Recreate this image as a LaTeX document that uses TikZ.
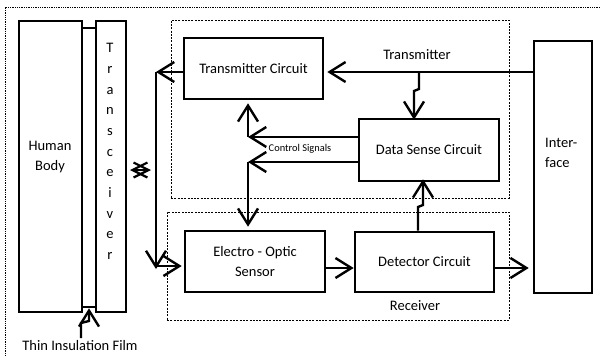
\documentclass[tikz,border=0pt]{standalone}
\usepackage{fontspec}
\setmainfont{Carlito}
\usetikzlibrary{arrows.meta,calc}
\begin{document}
\begin{tikzpicture}[x=1pt,y=-1pt,
  box/.style={draw, line width=2.6pt, inner sep=0pt},
  dotbox/.style={draw, line width=0.7pt, dash pattern=on 2pt off 1.3pt},
  arr/.style={line width=2.4pt, -{Straight Barb[length=16pt,width=20pt,line width=2.4pt]}},
  dbl/.style={line width=2.2pt, {Straight Barb[length=15pt,width=15pt,line width=2.2pt]}-{Straight Barb[length=15pt,width=15pt,line width=2.2pt]}},
  lbl/.style={font=\fontsize{14.5}{20}\selectfont, inner sep=0pt, align=center},
  small/.style={font=\fontsize{10.4}{12}\selectfont, inner sep=0pt}]
\useasboundingbox (0,0) rectangle (600,356);
% outer frame
\draw[line width=0.7pt, dash pattern=on 1.3pt off 1pt] (600,7) -- (5,7) -- (5,356);
% dotted groups
\node[dotbox, minimum width=338pt, minimum height=178pt] (txbox) at (340,109) {};
\node[dotbox, minimum width=342pt, minimum height=108pt] (rxbox) at (338,266) {};
% blocks
\node[box, minimum width=63pt, minimum height=291pt] (hb) at (50.5,166.5) {};
\node[box, minimum width=14pt, minimum height=279pt] (film) at (89,167.5) {};
\node[box, minimum width=30pt, minimum height=291pt] (tr) at (111,166.5) {};
\node[box, minimum width=139pt, minimum height=61pt, lbl] (tc) at (253.5,68.5) {Transmitter Circuit};
\node[box, minimum width=140pt, minimum height=62pt, lbl] (dsc) at (429,150) {Data Sense Circuit};
\node[box, minimum width=140pt, minimum height=61pt, lbl] (eo) at (255,261.5) {Electro - Optic\\Sensor};
\node[box, minimum width=139pt, minimum height=60pt, lbl] (det) at (424.5,262) {Detector Circuit};
\node[box, minimum width=58pt, minimum height=252pt] (intf) at (563,167) {};
% texts
\node[lbl] (hbl) at (50,157) {Human\\Body};
\node[lbl, font=\fontsize{14.5}{20.7}\selectfont] (trl) at (110,151.5) {T\\r\\a\\n\\s\\c\\e\\i\\v\\e\\r};
\node[lbl, align=left, anchor=west] (intfl) at (545,153) {Inter-\\face};
\node[lbl] (txl) at (417,55) {Transmitter};
\node[lbl] (rxl) at (415,306) {Receiver};
\node[small] (csl) at (300,149) {Control Signals};
\node[lbl] (filml) at (80,346) {Thin Insulation Film};
% coordinates
\coordinate (t1) at (534,72);
\coordinate (lc1) at (156,72);
\coordinate (lc2) at (156,266);
\coordinate (c1) at (248,137);
\coordinate (c2) at (248,162);
\coordinate (r1) at (0,268);
\coordinate (x1) at (130,170);
\coordinate (x2) at (151,170);
\coordinate (f0) at (81,338);
% connectors
\draw[arr, shorten >=3pt] (intf.west |- t1) -- (tc.east |- t1);
\draw[arr] (419,72) -- (419,89) -- (414,91) -- ([yshift=-2pt]dsc.north -| 414,0);
\draw[arr] (tc.west |- lc1) -- (lc1);
\draw[arr] (lc1) -- ([yshift=-3pt]lc2);
\draw[arr, shorten >=2pt] (lc2) -- (eo.west |- lc2);
\draw[arr] (dsc.west |- c1) -- (c1);
\draw[arr, shorten >=3pt] (c1) -- (tc.south -| c1);
\draw[arr] (dsc.west |- c2) -- (c2);
\draw[arr, shorten >=3pt] (c2) -- (eo.north -| c2);
\draw[arr] (eo.east |- r1) -- (det.west |- r1);
\draw[arr, shorten >=4pt] (det.east |- r1) -- (intf.west |- r1);
\draw[arr] (det.north -| 418,0) -- (418,207) -- (423,205) -- ([yshift=3pt]dsc.south -| 423,0);
\draw[dbl] (x1) -- (x2);
\draw[arr] (f0) -- (81,323) -- (89,321) -- (film.south);
\end{tikzpicture}
\end{document}
